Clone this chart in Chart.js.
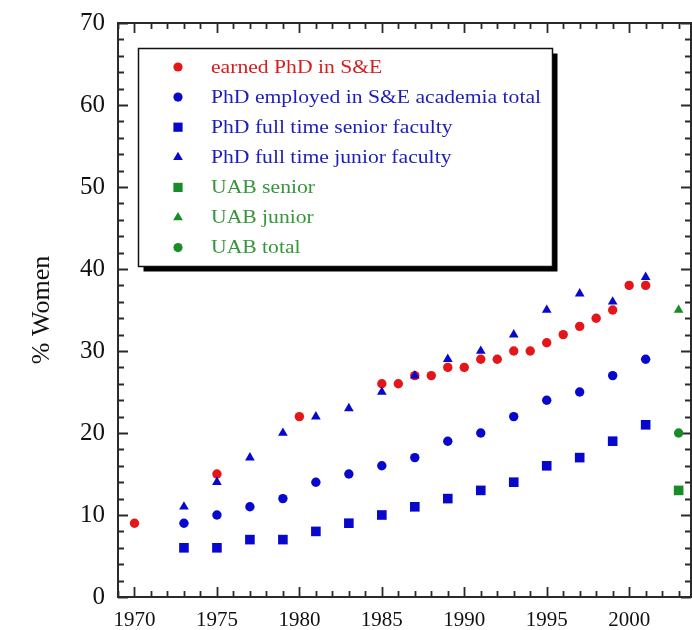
<!DOCTYPE html>
<html><head><meta charset="utf-8">
<script src="https://cdn.jsdelivr.net/npm/chart.js@4/dist/chart.umd.min.js"></script>
<style>html,body{margin:0;padding:0;background:#fff;}#wrap{width:692px;height:630px;}</style>
</head><body><div id="wrap"><canvas id="c" width="692" height="630"></canvas></div>
<script>
// ---- data ----
const yearsEarned   = [1970,1975,1980,1985,1986,1987,1988,1989,1990,1991,1992,1993,1994,1995,1996,1997,1998,1999,2000,2001];
const earnedPhD     = [9,15,22,26,26,27,27,28,28,29,29,30,30,31,32,33,34,35,38,38];
const yearsFaculty  = [1973,1975,1977,1979,1981,1983,1985,1987,1989,1991,1993,1995,1997,1999,2001];
const employedTotal = [9,10,11,12,14,15,16,17,19,20,22,24,25,27,29];
const seniorFaculty = [6,6,7,7,8,9,10,11,12,13,14,16,17,19,21];
const juniorFaculty = [11,14,17,20,22,23,25,27,29,30,32,35,37,36,39];
const uabYears      = [2003];
const uabSenior     = [13];
const uabJunior     = [35];
const uabTotal      = [20];
const xTickLabels   = [1970,1975,1980,1985,1990,1995,2000];
const yTickLabels   = [0,10,20,30,40,50,60,70];
const seriesLabels  = ['earned PhD in S&E','PhD employed in S&E academia total','PhD full time senior faculty','PhD full time junior faculty','UAB senior','UAB junior','UAB total'];

const RED = 'rgb(228,22,26)', BLUE = 'rgb(8,8,205)', GREEN = 'rgb(24,140,40)';
const FONT = "'Liberation Serif','Times New Roman',serif";

const pts = (xs, ys) => xs.map((x,i)=>({x:x, y:ys[i]}));
function ds(label, xs, ys, color, style, r, textColor, order){
  return {label, data: pts(xs,ys), pointStyle: style, pointRadius: r, pointHoverRadius: r,
    pointBackgroundColor: color, pointBorderColor: color, pointBorderWidth: 0,
    showLine:false, order, textColor};
}
const datasets = [
  ds(seriesLabels[0], yearsEarned, earnedPhD, RED, 'circle', 4.7, 'rgb(215,30,30)', 2),
  ds(seriesLabels[1], yearsFaculty, employedTotal, BLUE, 'circle', 4.7, 'rgb(30,30,185)', 1),
  ds(seriesLabels[2], yearsFaculty, seniorFaculty, BLUE, 'rect', 6.8, 'rgb(30,30,185)', 1),
  ds(seriesLabels[3], yearsFaculty, juniorFaculty, BLUE, 'triangle', 5.6, 'rgb(30,30,185)', 0),
  ds(seriesLabels[4], uabYears, uabSenior, GREEN, 'rect', 6.8, 'rgb(55,150,60)', 1),
  ds(seriesLabels[5], uabYears, uabJunior, GREEN, 'triangle', 5.6, 'rgb(55,150,60)', 1),
  ds(seriesLabels[6], uabYears, uabTotal, GREEN, 'circle', 4.7, 'rgb(55,150,60)', 1)
];

// frame with inward ticks on all four sides
const framePlugin = {
  id:'frame',
  beforeDatasetsDraw(chart){
    const {ctx, chartArea:a, scales:{x, y}} = chart;
    ctx.save();
    ctx.strokeStyle = '#2a2a2a';
    ctx.lineWidth = 2;
    ctx.strokeRect(a.left, a.top, a.right - a.left, a.bottom - a.top);
    ctx.lineWidth = 1.8;
    ctx.beginPath();
    for (let v = 1969; v <= 2003; v++){
      const px = Math.round(x.getPixelForValue(v)) + 0.5;
      const L = (v % 5 === 0) ? 10 : 6;
      ctx.moveTo(px, a.bottom); ctx.lineTo(px, a.bottom - L);
      ctx.moveTo(px, a.top); ctx.lineTo(px, a.top + L);
    }
    for (let v = 0; v <= 70; v += 2){
      const py = Math.round(y.getPixelForValue(v)) + 0.5;
      const L = (v % 10 === 0) ? 10 : 6;
      ctx.moveTo(a.left, py); ctx.lineTo(a.left + L, py);
      ctx.moveTo(a.right, py); ctx.lineTo(a.right - L, py);
    }
    ctx.stroke();
    ctx.restore();
  }
};

function marker(ctx, style, cx, cy, color){
  ctx.fillStyle = color;
  ctx.beginPath();
  if (style === 'circle'){ ctx.arc(cx, cy, 4.6, 0, Math.PI*2); }
  else if (style === 'rect'){ ctx.rect(cx-4.6, cy-4.6, 9.2, 9.2); }
  else { const r = 5.6; ctx.moveTo(cx, cy - r); ctx.lineTo(cx + r*0.866, cy + r*0.5); ctx.lineTo(cx - r*0.866, cy + r*0.5); ctx.closePath(); }
  ctx.fill();
}

const legendPlugin = {
  id:'boxLegend',
  afterDraw(chart){
    const ctx = chart.ctx;
    const bx = 138.5, by = 48.5, bw = 414, bh = 218;
    ctx.save();
    ctx.fillStyle = '#000';
    ctx.fillRect(bx + 5, by + 5, bw, bh);
    ctx.fillStyle = '#fff';
    ctx.fillRect(bx, by, bw, bh);
    ctx.strokeStyle = '#111'; ctx.lineWidth = 1.5;
    ctx.strokeRect(bx, by, bw, bh);
    ctx.font = "18.5px " + FONT;
    ctx.textBaseline = 'middle'; ctx.textAlign = 'left';
    chart.data.datasets.forEach((d, i) => {
      const cy = 67 + i * 30.1;
      marker(ctx, d.pointStyle, 178, cy, d.pointBackgroundColor);
      ctx.fillStyle = d.textColor;
      ctx.save();
      ctx.translate(211, cy + 1);
      ctx.scale(1.17, 1);
      ctx.fillText(d.label, 0, 0);
      ctx.restore();
    });
    ctx.restore();
  }
};

new Chart(document.getElementById('c'), {
  type:'scatter',
  data:{datasets},
  options:{
    responsive:false, animation:false, events:[],
    layout:{autoPadding:false, padding:{top:23, right:1, left:0, bottom:0}},
    plugins:{legend:{display:false}, tooltip:{enabled:false}},
    scales:{
      x:{type:'linear', min:1969, max:2003.75,
        afterBuildTicks:s=>{ s.ticks = xTickLabels.map(v=>({value:v})); },
        afterFit:s=>{ s.height = 33; s.paddingLeft = 0; s.paddingRight = 0; },
        grid:{display:false, drawTicks:false}, border:{display:false},
        ticks:{autoSkip:false, maxRotation:0, padding:11, color:'#111', font:{family:FONT, size:21}, callback:v=>String(v)}
      },
      y:{type:'linear', min:0, max:70,
        afterBuildTicks:s=>{ s.ticks = yTickLabels.map(v=>({value:v})); },
        afterFit:s=>{ s.width = 118; s.paddingTop = 0; s.paddingBottom = 0; },
        grid:{display:false, drawTicks:false}, border:{display:false},
        ticks:{padding:13, color:'#111', font:{family:FONT, size:25}, callback:v=>String(v)},
        title:{display:true, text:'% Women', color:'#111', font:{family:FONT, size:26}, padding:{top:27, bottom:0}}
      }
    }
  },
  plugins:[framePlugin, legendPlugin]
});
</script>
</body></html>
